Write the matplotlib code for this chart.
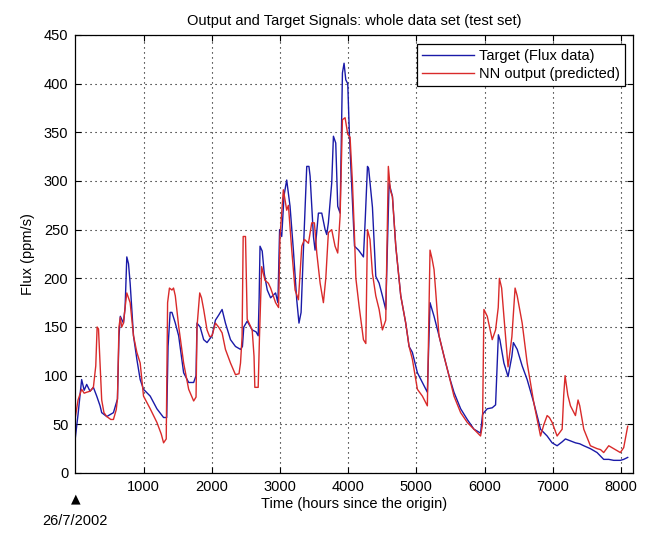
import matplotlib
matplotlib.use("Agg")
import matplotlib.pyplot as plt

plt.rcParams['font.family'] = ['Liberation Sans', 'DejaVu Sans']

title = "Output and Target Signals: whole data set (test set)"
xlabel = "Time (hours since the origin)"
ylabel = "Flux (ppm/s)"
legend_labels = ["Target (Flux data)", "NN output (predicted)"]
origin_label = "26/7/2002"
x_ticks = [1000, 2000, 3000, 4000, 5000, 6000, 7000, 8000]
y_ticks = [0, 50, 100, 150, 200, 250, 300, 350, 400, 450]

target_hours = [0, 40, 93, 130, 167, 216, 265, 314, 363, 387, 461, 559, 618, 640, 660, 706, 730, 755, 780, 804,
                853, 902, 951, 1000, 1098, 1196, 1294, 1340, 1360, 1390, 1417, 1466, 1515, 1588, 1662, 1735,
                1770, 1784, 1830, 1882, 1931, 2005, 2054, 2100, 2152, 2201, 2275, 2348, 2422, 2450, 2470, 2520,
                2593, 2650, 2681, 2695, 2708, 2740, 2770, 2814, 2863, 2936, 2970, 2995, 3026, 3060, 3099, 3148,
                3197, 3246, 3279, 3310, 3344, 3393, 3425, 3442, 3491, 3515, 3564, 3613, 3662, 3686, 3710, 3759,
                3784, 3818, 3847, 3882, 3916, 3940, 3965, 3994, 4019, 4063, 4093, 4152, 4224, 4250, 4283, 4300,
                4356, 4405, 4454, 4502, 4551, 4600, 4649, 4698, 4771, 4844, 4893, 4941, 5015, 5088, 5161, 5200,
                5259, 5332, 5405, 5478, 5551, 5649, 5746, 5844, 5941, 5970, 5990, 6039, 6112, 6161, 6202, 6224,
                6283, 6344, 6400, 6422, 6478, 6551, 6624, 6722, 6820, 6917, 6990, 7063, 7137, 7185, 7259, 7332,
                7395, 7454, 7551, 7649, 7746, 7820, 7893, 7990, 8039, 8098]
target_flux = [36, 60, 96, 85, 91, 84, 88, 79, 69, 62, 58, 62, 76, 140, 161, 154, 170, 222, 215, 195,
               141, 117, 96, 86, 79, 66, 57, 57, 130, 165, 165, 154, 141, 103, 93, 93,
               100, 154, 150, 137, 134, 141, 157, 162, 168, 154, 137, 130, 127, 130, 150, 156,
               147, 145, 141, 180, 233, 228, 205, 188, 180, 185, 175, 250, 243, 285, 301, 274,
               229, 178, 154, 165, 229, 315, 315, 305, 243, 229, 267, 267, 250, 245, 257, 298,
               346, 339, 274, 267, 411, 421, 404, 400, 346, 278, 233, 229, 222, 260, 315, 313,
               273, 202, 195, 182, 168, 298, 284, 233, 182, 154, 130, 124, 103, 93, 83, 175,
               161, 141, 120, 100, 83, 66, 55, 45, 41, 60, 62, 66, 67, 70, 142, 137,
               113, 99, 120, 134, 127, 110, 96, 72, 45, 38, 31, 28, 32, 35, 33, 31,
               30, 28, 25, 21, 14, 14, 13, 13, 14, 16]

pred_hours = [0, 40, 93, 130, 167, 216, 265, 300, 320, 340, 363, 387, 420, 461, 520, 559, 600, 618, 640, 660,
              680, 706, 730, 755, 780, 804, 853, 870, 902, 951, 1000, 1098, 1196, 1260, 1294, 1333, 1353, 1380,
              1417, 1440, 1466, 1515, 1588, 1662, 1735, 1770, 1784, 1824, 1850, 1882, 1931, 1970, 2005, 2054,
              2100, 2152, 2201, 2275, 2348, 2400, 2422, 2445, 2461, 2495, 2510, 2520, 2593, 2620, 2632, 2681,
              2700, 2732, 2781, 2830, 2863, 2936, 2980, 3001, 3050, 3099, 3124, 3173, 3222, 3271, 3320, 3359,
              3418, 3466, 3505, 3540, 3589, 3637, 3672, 3710, 3759, 3808, 3847, 3882, 3916, 3955, 3994, 4028,
              4063, 4093, 4113, 4161, 4224, 4259, 4283, 4320, 4356, 4405, 4454, 4502, 4551, 4589,
              4620, 4649, 4698, 4771, 4844, 4893, 4941, 5015, 5088, 5161, 5200, 5230, 5259, 5332, 5405, 5478,
              5551, 5649, 5746, 5844, 5941, 5970, 5990, 6039, 6112, 6161, 6200, 6217, 6250, 6283, 6344, 6400,
              6447, 6478, 6551, 6624, 6722, 6820, 6870, 6917, 6950, 6990, 7063, 7137, 7160, 7180, 7220, 7259,
              7332, 7370, 7395, 7454, 7551, 7649, 7700, 7746, 7820, 7893, 7990, 8039, 8098]
pred_flux = [57, 75, 86, 82, 83, 84, 88, 110, 150, 148, 113, 75, 62, 58, 55, 55, 65, 76, 150, 160,
             150, 154, 170, 185, 180, 175, 141, 135, 124, 113, 79, 66, 52, 40, 31, 35, 175, 190,
             188, 190, 182, 151, 113, 86, 74, 78, 150, 185, 180, 168, 147, 140, 141, 154,
             150, 144, 127, 113, 101, 102, 113, 140, 243, 243, 190, 158, 147, 120, 88, 88,
             140, 212, 198, 195, 190, 175, 170, 243, 291, 270, 275, 229, 188, 178, 233, 240,
             236, 257, 257, 226, 195, 175, 200, 247, 250, 233, 226, 264, 363, 365, 348, 345,
             298, 243, 200, 171, 137, 133, 250, 240, 205, 182, 168, 147, 157, 315,
             290, 284, 233, 182, 154, 130, 117, 86, 79, 69, 229, 220, 209, 141, 120, 100,
             79, 62, 52, 45, 38, 50, 168, 161, 137, 147, 170, 200, 190, 161, 109, 140,
             190, 182, 154, 113, 72, 38, 50, 59, 57, 52, 38, 45, 80, 100, 80, 69,
             59, 75, 69, 45, 28, 25, 24, 21, 28, 25, 21, 26, 48]

fig = plt.figure(figsize=(6.49, 5.36), dpi=100)
ax = fig.add_axes([75.3 / 649, 1 - 473 / 536, (633.3 - 75.3) / 649, (473 - 35) / 536])

ax.plot(target_hours, target_flux, color='#1a1aa8', lw=1.0, label=legend_labels[0])
ax.plot(pred_hours, pred_flux, color='#d92a2a', lw=1.0, label=legend_labels[1])

ax.set_xlim(0, 8180)
ax.set_ylim(0, 450)
ax.set_xticks(x_ticks)
ax.set_yticks(y_ticks)
ax.tick_params(direction='in', top=True, right=True, length=4, labelsize=10.5, pad=5)
ax.grid(True, color='black', linestyle=(0, (1, 3.5)), linewidth=0.8)
for s in ax.spines.values():
    s.set_linewidth(0.9)

ax.set_title(title, fontsize=10.5, pad=7)
ax.set_xlabel(xlabel, fontsize=10.5, labelpad=2)
ax.set_ylabel(ylabel, fontsize=10.5, labelpad=6)

leg = ax.legend(loc='upper right', fontsize=10.5, fancybox=False, edgecolor='black',
                framealpha=1, handlelength=3.6, borderaxespad=0.6, labelspacing=0.3,
                handletextpad=0.3, borderpad=0.35)
leg.get_frame().set_linewidth(0.9)

ax.annotate("\u25B2", xy=(0, 0), xycoords='data', xytext=(0, -19), textcoords='offset points',
            ha='center', va='center', fontsize=9, family=['DejaVu Sans'], annotation_clip=False)
ax.annotate(origin_label, xy=(0, 0), xycoords='data', xytext=(0, -34.5), textcoords='offset points',
            ha='center', va='center', fontsize=10.5, annotation_clip=False)

fig.savefig("out.png", dpi=100)
